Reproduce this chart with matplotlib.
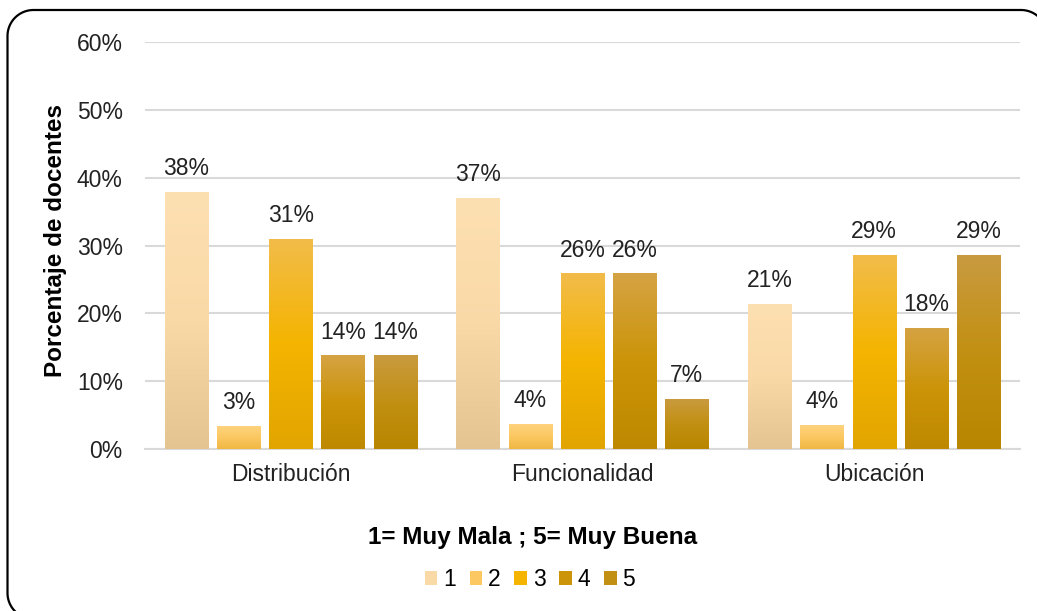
import numpy as np
import matplotlib
matplotlib.use("Agg")
import matplotlib.pyplot as plt
from matplotlib.colors import LinearSegmentedColormap
from matplotlib.patches import Patch

plt.rcParams['font.family'] = ['Liberation Sans', 'DejaVu Sans']

categories = ["Distribución", "Funcionalidad", "Ubicación"]
series_names = ["1", "2", "3", "4", "5"]
values = {
    "1": [37.9, 37.0, 21.4],
    "2": [3.4, 3.7, 3.6],
    "3": [31.0, 25.9, 28.6],
    "4": [13.8, 25.9, 17.9],
    "5": [13.8, 7.4, 28.6],
}
labels = {
    "1": ["38%", "37%", "21%"],
    "2": ["3%", "4%", "4%"],
    "3": ["31%", "26%", "29%"],
    "4": ["14%", "26%", "18%"],
    "5": ["14%", "7%", "29%"],
}
yticks = [0, 10, 20, 30, 40, 50, 60]
ytick_labels = ["0%", "10%", "20%", "30%", "40%", "50%", "60%"]

# gradient stops (top, middle, bottom)
grad = {
    "1": ["#FDE0B2", "#F9D9A6", "#E4C491"],
    "2": ["#FFD480", "#FBC862", "#F0B743"],
    "3": ["#F2BC4A", "#F5B400", "#E2A500"],
    "4": ["#D5A344", "#CC9408", "#BE8900"],
    "5": ["#C99B40", "#C29012", "#B98600"],
}

W, H = 1037, 611
fig = plt.figure(figsize=(W / 100, H / 100), dpi=100)

# background overlay for rounded border (pixel coordinates, y up)
bg = fig.add_axes([0, 0, 1, 1], zorder=-1)
bg.set_xlim(0, W)
bg.set_ylim(0, H)
bg.axis("off")
r = 26.0
left, right, bottom, top = 7.5, 1047.0, -8.0, 601.0
pts = []
for cx, cy, a0 in [(right - r, top - r, 0), (left + r, top - r, 90),
                   (left + r, bottom + r, 180), (right - r, bottom + r, 270)]:
    t = np.radians(np.linspace(a0, a0 + 90, 30))
    pts.append(np.column_stack([cx + r * np.cos(t), cy + r * np.sin(t)]))
pts = np.vstack(pts + [pts[0][:1]])
bg.plot(pts[:, 0], pts[:, 1], color="black", linewidth=1.6, solid_capstyle="round")

ax = fig.add_axes([0.1398, 0.265, 0.8438, 0.666])
ax.patch.set_alpha(0)

x = np.arange(len(categories))
pitch = 0.179
width = 0.148

legend_handles = []
for i, s in enumerate(series_names):
    cmap = LinearSegmentedColormap.from_list("g" + s, [grad[s][2], grad[s][1], grad[s][0]])
    offs = (i - 2) * pitch
    bars = ax.bar(x + offs, values[s], width, color="none", edgecolor="none", zorder=3)
    for b, v, lab in zip(bars, values[s], labels[s]):
        x0 = b.get_x()
        img = np.linspace(0, 1, 256).reshape(-1, 1)
        im = ax.imshow(img, cmap=cmap, origin="lower", aspect="auto",
                       extent=(x0, x0 + width, 0, v), zorder=3)
        im.set_clip_path(b)
        ax.annotate(lab, (x0 + width / 2, v), xytext=(0, 8.5), textcoords="offset points",
                    ha="center", va="bottom", fontsize=16.5, color="#222222", zorder=4)
    legend_handles.append(Patch(facecolor=grad[s][1], edgecolor="none", label=s))

ax.set_xlim(-0.5, 2.5)
ax.set_ylim(0, 60)
ax.set_yticks(yticks)
ax.set_yticklabels(ytick_labels, fontsize=16.5, color="#222222")
ax.set_xticks(x)
ax.set_xticklabels(categories, fontsize=16.5, color="#222222")
ax.tick_params(axis="x", length=0, pad=10)
ax.tick_params(axis="y", length=0, pad=16)
ax.grid(axis="y", color="#D9D9D9", linewidth=1.5, zorder=0)
ax.set_axisbelow(True)
for sp in ["top", "right", "left"]:
    ax.spines[sp].set_visible(False)
ax.spines["bottom"].set_color("#D9D9D9")
ax.spines["bottom"].set_linewidth(1.5)

fig.text(0.054, 0.607, "Porcentaje de docentes", rotation=90, ha="center", va="center",
         fontsize=17.5, fontweight="bold", color="black")
fig.text(0.514, 0.121, "1= Muy Mala ; 5= Muy Buena", ha="center", va="center",
         fontsize=17.5, fontweight="bold", color="black")

fig.legend(handles=legend_handles, loc="center", bbox_to_anchor=(0.511, 0.052), ncol=5, frameon=False,
           fontsize=16.5, handlelength=0.55, handleheight=0.55, handletextpad=0.25, columnspacing=0.6)

fig.savefig("out.png", dpi=100)
